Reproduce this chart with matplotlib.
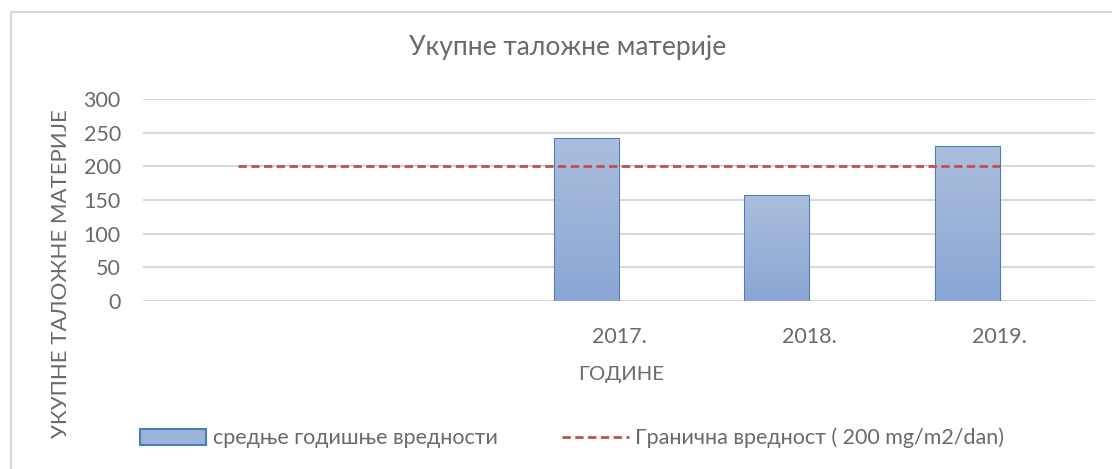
import numpy as np
import matplotlib.pyplot as plt
from matplotlib.patches import Rectangle
from matplotlib.colors import LinearSegmentedColormap

plt.rcParams['font.family'] = ['Lato', 'DejaVu Sans']

categories = ['', '', '2017.', '2018.', '2019.']
bar_values = [np.nan, np.nan, 241, 156, 229]
limit_values = [200, 200, 200, 200, 200]

bar_label = 'средње годишње вредности'
line_label = 'Гранична вредност ( 200 mg/m2/dan)'
title = 'Укупне таложне материје'
ylabel = 'УКУПНЕ ТАЛОЖНЕ МАТЕРИЈЕ'
xlabel = 'ГОДИНЕ'

gray = '#6a6a6a'
grid_c = '#d9d9d9'

fig = plt.figure(figsize=(11.12, 4.69), dpi=100)
ax = fig.add_axes([0.1286, 0.3582, 0.9847 - 0.1286, 0.7889 - 0.3582])

x = np.arange(len(categories))
bw = 0.336
bars = ax.bar(x - bw / 2, bar_values, width=bw, color='#9db4da',
              edgecolor='#4a7ebb', linewidth=1.5, label=bar_label, zorder=3)

# vertical gradient in each bar
cmap = LinearSegmentedColormap.from_list('g', ['#8aa6d3', '#aabedd'])
grad = np.linspace(0, 1, 100).reshape(-1, 1)
for b in bars:
    h = b.get_height()
    if np.isnan(h):
        continue
    im = ax.imshow(grad, cmap=cmap, aspect='auto', origin='lower',
                   extent=[b.get_x(), b.get_x() + b.get_width(), 0, h], zorder=3)
    im.set_clip_path(b)

line, = ax.plot(x, limit_values, color='#c0504d', linestyle=(0, (3, 1.6)),
                linewidth=2, label=line_label, zorder=4)

ax.set_xlim(-0.5, len(categories) - 0.5)
ax.set_ylim(0, 300)
ax.set_yticks(np.arange(0, 301, 50))
ax.set_xticks(x)
ax.set_xticklabels(categories)
ax.yaxis.grid(True, color=grid_c, linewidth=1.5, zorder=0)
ax.set_axisbelow(True)
for s in ax.spines.values():
    s.set_visible(False)
ax.tick_params(axis='both', length=0, colors=gray, labelsize=15.5)
ax.tick_params(axis='x', pad=19)
ax.tick_params(axis='y', pad=16)

fig.text(568 / 1112, 1 - 48 / 469, title, ha='center', va='center',
         fontsize=19, color=gray)
fig.text(61 / 1112, 1 - 274 / 469, ylabel, ha='center', va='center',
         rotation=90, fontsize=16, color=gray)
fig.text(621 / 1112, 1 - 374 / 469, xlabel, ha='center', va='center',
         fontsize=14.6, color=gray)

leg = fig.legend([bars, line], [bar_label, line_label], loc='center',
                 bbox_to_anchor=(572 / 1112, 1 - 438 / 469), ncol=2,
                 frameon=False, fontsize=15.5, handlelength=3.1,
                 handleheight=0.75, columnspacing=3.0, handletextpad=0.3)
for t in leg.get_texts():
    t.set_color(gray)

fig.patches.append(Rectangle((11 / 1112, -0.1), 1.2, 1.1 - 12 / 469,
                             transform=fig.transFigure, fill=False,
                             edgecolor='#d9d9d9', linewidth=1.5))

fig.savefig('out.png', dpi=100)
